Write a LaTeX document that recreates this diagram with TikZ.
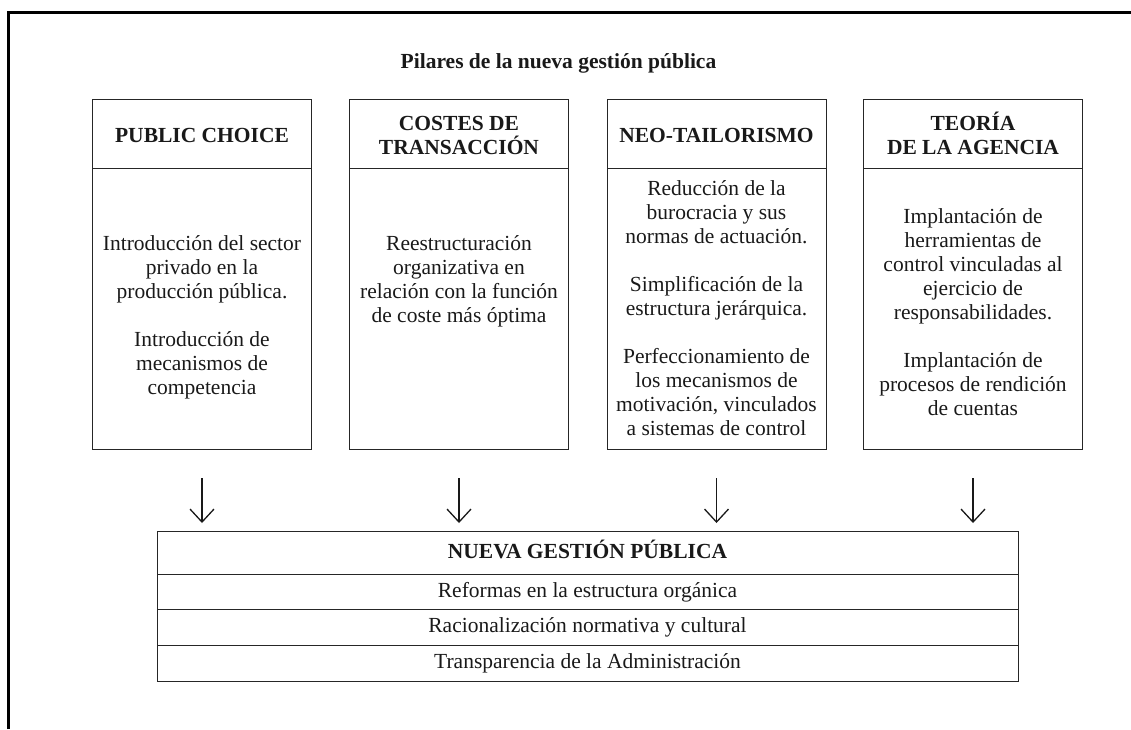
\documentclass[tikz,border=0pt]{standalone}
\usepackage{fontspec}
\setmainfont{Liberation Serif}
\usetikzlibrary{arrows.meta}
\newcommand\mystrut{\rule{0pt}{20pt}}
\tikzset{
  boxline/.style={draw=black!85, line width=0.9pt, inner sep=0pt, outer sep=0pt, minimum width=219pt},
  hdrbox/.style={boxline, minimum height=69pt},
  bodybox/.style={boxline, minimum height=281pt},
  txt/.style={anchor=north, align=center, inner sep=0pt, outer sep=0pt, text=black!90,
              font=\fontsize{21.5}{24}\selectfont},
  hdrtxt/.style={txt, font=\fontsize{21.5}{24}\selectfont\bfseries},
  rowbox/.style={draw=black!85, line width=0.9pt, inner sep=0pt, outer sep=0pt, minimum width=861pt,
              text height=15pt, text depth=4pt, text=black!90, font=\fontsize{21.5}{24}\selectfont},
  arr/.style={line width=1.3pt, black!90, -{Straight Barb[length=13pt,width=24pt,line width=1.3pt]}},
  frameline/.style={line width=3pt, black}
}
\begin{document}
\begin{tikzpicture}[x=1pt,y=-1pt]
\useasboundingbox (0,0) rectangle (1131,729);
\draw[frameline] (8,729) -- (8,12) -- (1131,12);

\node[anchor=base, inner sep=0pt, text=black!90, font=\fontsize{21.5}{24}\selectfont\bfseries] (title) at (558.5,68) {Pilares de la nueva gestión pública};

% header boxes
\node[hdrbox] (h1) at (202,133.5) {};
\node[hdrbox] (h2) at (459,133.5) {};
\node[hdrbox] (h3) at (716.5,133.5) {};
\node[hdrbox] (h4) at (973,133.5) {};
% body boxes
\node[bodybox] (b1) at (202,308.5) {};
\node[bodybox] (b2) at (459,308.5) {};
\node[bodybox] (b3) at (716.5,308.5) {};
\node[bodybox] (b4) at (973,308.5) {};

% header texts
\node[hdrtxt] (h1t) at (202,122) {\mystrut PUBLIC CHOICE};
\node[hdrtxt] (h2t) at (459,110) {\mystrut COSTES DE\\ TRANSACCIÓN};
\node[hdrtxt] (h3t) at (716.5,122) {\mystrut NEO-TAILORISMO};
\node[hdrtxt] (h4t) at (973,110) {\mystrut TEORÍA\\ DE LA AGENCIA};

% body texts
\node[txt] (b1t) at (202,230) {\mystrut Introducción del sector\\ privado en la\\ producción pública.\\[24pt]
  Introducción de\\ mecanismos de\\ competencia};
\node[txt] (b2t) at (459,230) {\mystrut Reestructuración\\ organizativa en\\ relación con la función\\ de coste más óptima};
\node[txt] (b3t) at (716.5,175) {\mystrut Reducción de la\\ burocracia y sus\\ normas de actuación.\\[24pt]
  Simplificación de la\\ estructura jerárquica.\\[24pt]
  Perfeccionamiento de\\ los mecanismos de\\ motivación, vinculados\\ a sistemas de control};
\node[txt] (b4t) at (973,203) {\mystrut Implantación de\\ herramientas de\\ control vinculadas al\\ ejercicio de\\ responsabilidades.\\[24pt]
  Implantación de\\ procesos de rendición\\ de cuentas};

% bottom block
\node[rowbox, minimum height=43pt, font=\fontsize{21.5}{24}\selectfont\bfseries] (r0) at (587.5,552.5) {NUEVA GESTIÓN PÚBLICA};
\node[rowbox, minimum height=35pt] (r1) at (587.5,591.5) {Reformas en la estructura orgánica};
\node[rowbox, minimum height=36pt] (r2) at (587.5,627) {Racionalización normativa y cultural};
\node[rowbox, minimum height=36pt] (r3) at (587.5,663) {Transparencia de la Administración};

% arrows
\foreach \i in {1,2,3,4}{
  \coordinate (s\i) at ([yshift=-29pt]b\i.south);
  \coordinate (e\i) at (b\i.south |- r0.north);
  \draw[arr] (s\i) -- ([yshift=8pt]e\i);
}
\end{tikzpicture}
\end{document}
